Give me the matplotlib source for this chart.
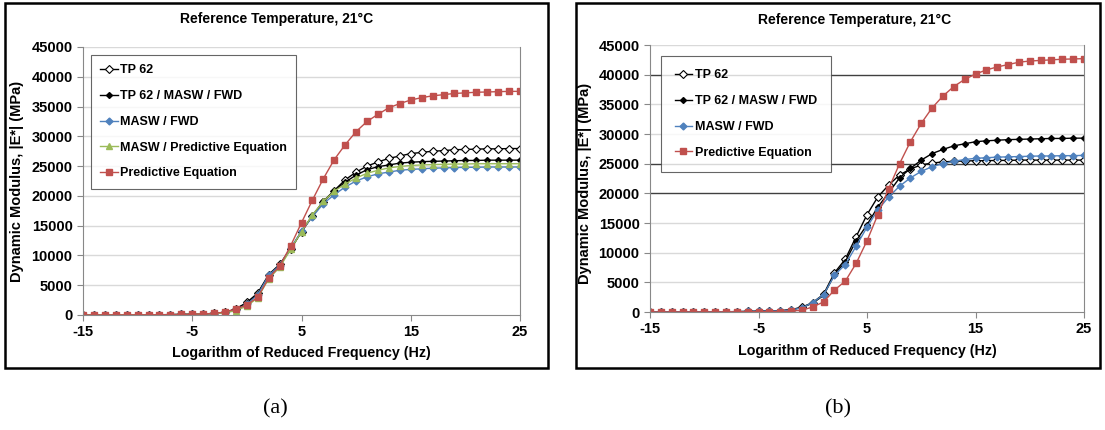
import matplotlib
matplotlib.use("Agg")
import matplotlib.pyplot as plt
from matplotlib.patches import Rectangle

plt.rcParams['font.family'] = ['Liberation Sans', 'DejaVu Sans']
plt.rcParams['font.weight'] = 'bold'
plt.rcParams['axes.unicode_minus'] = False

# log reduced frequency
x = list(range(-15, 26))

low = [8, 10, 12, 15, 19, 25, 33, 45, 62, 88, 125, 180]

# panel (a)
tp62_a = low + [260, 420, 1050, 2100, 3700, 6800, 8500, 11100, 14000, 16600, 19000, 20900, 22700, 24000,
                25000, 25700, 26300, 26700, 27100, 27300, 27500, 27600, 27750, 27800, 27850, 27900, 27900,
                27950, 27950]
tp62_masw_a = low + [260, 420, 1000, 2000, 3600, 6600, 8400, 11000, 14000, 16700, 19100, 20900, 22300,
                     23500, 24400, 24900, 25200, 25500, 25650, 25750, 25800, 25850, 25900, 25950, 25950,
                     26000, 26000, 26000, 26000]
masw_fwd_a = low + [240, 380, 850, 1800, 3400, 6700, 8300, 11200, 14100, 16500, 18700, 20200, 21500,
                    22500, 23200, 23700, 24000, 24300, 24450, 24550, 24650, 24700, 24750, 24800, 24800,
                    24850, 24850, 24850, 24850]
masw_pred_a = low + [230, 350, 750, 1500, 2900, 6100, 8000, 11000, 14000, 16800, 19100, 20800, 22000,
                     23000, 23800, 24300, 24700, 24950, 25100, 25200, 25250, 25300, 25350, 25350, 25400,
                     25400, 25400, 25400, 25400]
pred_a = [5, 7, 9, 12, 16, 22, 30, 42, 60, 85, 120, 180, 260, 500, 1000, 1700, 3000, 6200, 8200, 11600,
          15500, 19300, 22900, 26100, 28600, 30800, 32500, 33700, 34800, 35500, 36100, 36500, 36800,
          37000, 37200, 37300, 37400, 37450, 37500, 37550, 37550]

# panel (b)
tp62_b = low + [200, 400, 800, 1600, 3000, 6600, 8900, 12700, 16400, 19400, 21400, 23100, 24100, 24800,
                25100, 25300, 25400, 25450, 25500, 25500, 25550, 25550, 25600, 25600, 25600, 25600, 25600,
                25600, 25600]
tp62_masw_b = low + [180, 380, 750, 1500, 2800, 6300, 8500, 12000, 14700, 17700, 20100, 22600, 24200,
                     25600, 26700, 27400, 28000, 28350, 28700, 28850, 28950, 29050, 29100, 29150, 29200,
                     29250, 29250, 29300, 29300]
masw_fwd_b = low + [170, 350, 700, 1600, 2900, 6200, 8000, 11100, 14300, 17200, 19400, 21200, 22600,
                    23700, 24500, 25000, 25400, 25700, 25900, 26000, 26100, 26150, 26200, 26250, 26300,
                    26300, 26350, 26350, 26400]
pred_b = [4, 5, 6, 8, 10, 12, 16, 22, 31, 44, 60, 80, 80, 150, 300, 850, 1700, 3700, 5200, 8200, 12000,
          16400, 20800, 25000, 28700, 31800, 34400, 36400, 38000, 39200, 40100, 40800, 41300, 41700,
          42100, 42300, 42400, 42500, 42600, 42650, 42700]

labels = ["TP 62", "TP 62 / MASW / FWD", "MASW / FWD", "MASW / Predictive Equation", "Predictive Equation"]
yticks = list(range(0, 45001, 5000))
xticks = [-15, -5, 5, 15, 25]

RED = "#C0504D"
BLUE = "#4F81BD"
GREEN = "#9BBB59"

W, H = 1105, 430
fig = plt.figure(figsize=(W / 100, H / 100), dpi=100)


def fr(px, py, pw, ph):
    # pixel box (top-left origin) -> figure fraction
    return [px / W, 1 - (py + ph) / H, pw / W, ph / H]


def style_series(ax, series):
    styles = [
        dict(color="black", marker="D", mfc="white", mec="black", ms=4, mew=0.8),
        dict(color="black", marker="D", mfc="black", mec="black", ms=3),
        dict(color=BLUE, marker="D", mfc=BLUE, mec=BLUE, ms=3.5),
        dict(color=GREEN, marker="^", mfc=GREEN, mec=GREEN, ms=4.5),
        dict(color=RED, marker="s", mfc=RED, mec=RED, ms=4),
    ]
    for (lab, ys, idx) in series:
        ax.plot(x, ys, lw=1, label=lab, **styles[idx])


def setup_axes(ax, dark_lines):
    ax.set_xlim(-15, 25)
    ax.set_ylim(0, 45000)
    ax.set_xticks(xticks)
    ax.set_yticks(yticks)
    ax.tick_params(labelsize=10.5, length=4, color="#888888", width=0.8)
    for t in ax.get_xticklabels() + ax.get_yticklabels():
        t.set_fontweight("bold")
    for v in yticks[1:]:
        c = "#404040" if v in dark_lines else "#D9D9D9"
        ax.axhline(v, color=c, lw=1, zorder=0)
    for s in ["left", "right", "bottom"]:
        ax.spines[s].set_color("#888888")
    ax.spines["top"].set_visible(False)
    ax.set_axisbelow(True)


def add_legend(ax, bbox, pad):
    leg = ax.legend(loc="upper left", bbox_to_anchor=bbox, fontsize=9, frameon=True, fancybox=False,
                    handlelength=1.4, handletextpad=0.2, labelspacing=1.1, borderpad=pad,
                    borderaxespad=0)
    leg.get_frame().set_edgecolor("#404040")
    leg.get_frame().set_linewidth(0.8)
    for t in leg.get_texts():
        t.set_fontweight("bold")


# outer frames
fig.patches.append(Rectangle((5 / W, 1 - 368 / H), 543 / W, 365 / H, transform=fig.transFigure,
                             fill=False, ec="black", lw=1.8))
fig.patches.append(Rectangle((576 / W, 1 - 368 / H), 524 / W, 365 / H, transform=fig.transFigure,
                             fill=False, ec="black", lw=1.8))

# panel (a)
axa = fig.add_axes(fr(83, 47, 437, 268))
setup_axes(axa, [])
style_series(axa, [(labels[0], tp62_a, 0), (labels[1], tp62_masw_a, 1), (labels[2], masw_fwd_a, 2),
                   (labels[3], masw_pred_a, 3), (labels[4], pred_a, 4)])
add_legend(axa, (0.018, 0.97), 0.75)
fig.text(277 / W, 1 - 19 / H, "Reference Temperature, 21°C", ha="center", va="center", fontsize=10,
         fontweight="bold")
fig.text(17 / W, 1 - 181 / H, "Dynamic Modulus, |E*| (MPa)", ha="center", va="center", rotation=90,
         fontsize=10.5, fontweight="bold")
fig.text(301 / W, 1 - 353 / H, "Logarithm of Reduced Frequency (Hz)", ha="center", va="center",
         fontsize=10.3, fontweight="bold")

# panel (b)
axb = fig.add_axes(fr(650, 45, 434, 267))
setup_axes(axb, [40000, 25000, 20000])
style_series(axb, [(labels[0], tp62_b, 0), (labels[1], tp62_masw_b, 1), (labels[2], masw_fwd_b, 2),
                   (labels[4], pred_b, 4)])
add_legend(axb, (0.025, 0.96), 1.1)
fig.text(855 / W, 1 - 20 / H, "Reference Temperature, 21°C", ha="center", va="center", fontsize=10,
         fontweight="bold")
fig.text(585 / W, 1 - 183 / H, "Dynamic Modulus, |E*| (MPa)", ha="center", va="center", rotation=90,
         fontsize=10.5, fontweight="bold")
fig.text(867 / W, 1 - 351 / H, "Logarithm of Reduced Frequency (Hz)", ha="center", va="center",
         fontsize=10.3, fontweight="bold")

# sub-figure captions
fig.text(275 / W, 1 - 409 / H, "(a)", ha="center", va="center", fontsize=16, family="Liberation Serif",
         fontweight="normal")
fig.text(838 / W, 1 - 409 / H, "(b)", ha="center", va="center", fontsize=16, family="Liberation Serif",
         fontweight="normal")

fig.savefig("out.png", dpi=100)
